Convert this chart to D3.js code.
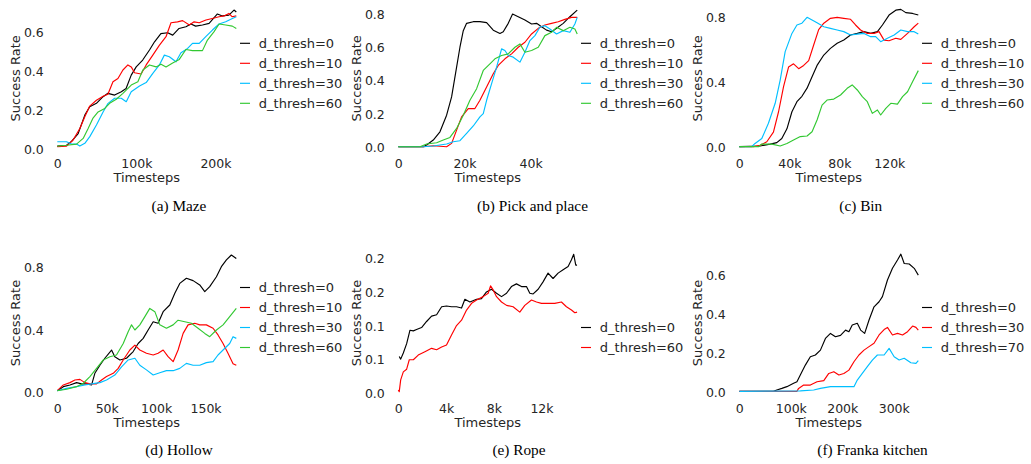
<!DOCTYPE html>
<html><head><meta charset="utf-8">
<script src="https://cdn.jsdelivr.net/npm/d3@7"></script>
<style>
html,body{margin:0;padding:0;background:#fff;}
svg{display:block;}
</style></head>
<body>
<svg id="chart" width="1031" height="464"></svg>
<script>
// ---------- DATA (x in thousands of timesteps, y = success rate) ----------
const captions = ["(a) Maze","(b) Pick and place","(c) Bin","(d) Hollow","(e) Rope","(f) Franka kitchen"];
const legend4 = ["d_thresh=0","d_thresh=10","d_thresh=30","d_thresh=60"];
const legendRope = ["d_thresh=0","d_thresh=60"];
const legendKitchen = ["d_thresh=0","d_thresh=30","d_thresh=70"];

const xTicksMaze = [0,100,200], xLabelsMaze = ["0","100k","200k"];
const yTicksMaze = [0,0.2,0.4,0.6], yLabelsMaze = ["0.0","0.2","0.4","0.6"];
const xTicksPick = [0,20,40], xLabelsPick = ["0","20k","40k"];
const yTicksPick = [0,0.2,0.4,0.6,0.8], yLabelsPick = ["0.0","0.2","0.4","0.6","0.8"];
const xTicksBin = [0,40,80,120], xLabelsBin = ["0","40k","80k","120k"];
const yTicksBin = [0,0.4,0.8], yLabelsBin = ["0.0","0.4","0.8"];
const xTicksHollow = [0,50,100,150], xLabelsHollow = ["0","50k","100k","150k"];
const yTicksHollow = [0,0.4,0.8], yLabelsHollow = ["0.0","0.4","0.8"];
const xTicksRope = [0,4,8,12], xLabelsRope = ["0","4k","8k","12k"];
const yTicksRope = [0,0.05,0.1,0.15,0.2], yLabelsRope = ["0.0","0.1","0.1","0.2","0.2"];
const xTicksKitchen = [0,100,200,300], xLabelsKitchen = ["0","100k","200k","300k"];
const yTicksKitchen = [0,0.2,0.4,0.6], yLabelsKitchen = ["0.0","0.2","0.4","0.6"];

const maze_d0 = [[0,0.016],[11.7,0.02],[18,0.04],[26.4,0.08],[34.8,0.174],[41,0.217],[49.5,0.234],[57.9,0.268],[64,0.285],[72.5,0.276],[81,0.293],[87,0.31],[93.5,0.378],[99.8,0.42],[108,0.455],[116.6,0.506],[123,0.548],[131,0.59],[139.6,0.594],[146,0.582],[154,0.616],[162.7,0.625],[169,0.639],[175,0.628],[183.6,0.634],[192,0.642],[202.5,0.69],[208.8,0.68],[217,0.684],[223.5,0.71],[226.4,0.70]];
const maze_d10 = [[0,0.013],[11.7,0.016],[20,0.047],[28.5,0.106],[34.8,0.166],[41,0.22],[49.5,0.25],[57.9,0.27],[64,0.28],[70.4,0.344],[76.7,0.361],[83,0.404],[89.3,0.43],[93.5,0.42],[97.7,0.39],[106,0.384],[112.4,0.43],[120.8,0.48],[129,0.53],[137.5,0.574],[143.8,0.645],[152,0.65],[158.5,0.656],[167,0.634],[173,0.65],[179.5,0.645],[188,0.659],[196,0.667],[204.6,0.676],[211,0.68],[217,0.693],[221,0.676],[226.4,0.68]];
const maze_d30 = [[0,0.038],[11.7,0.038],[18,0.026],[24.3,0.026],[28.5,0.016],[34.8,0.03],[41.1,0.064],[49.5,0.123],[57.9,0.19],[64.2,0.234],[72.5,0.26],[80.9,0.26],[87.2,0.242],[93.5,0.293],[104,0.322],[112.4,0.34],[120.8,0.387],[129.1,0.43],[135.4,0.48],[141.7,0.472],[150.1,0.446],[156.4,0.492],[164.8,0.514],[171,0.54],[179.5,0.54],[187.8,0.574],[196.2,0.608],[204.6,0.639],[213,0.65],[221.4,0.667],[226.4,0.676]];
const maze_d60 = [[0,0.016],[11.7,0.02],[24.3,0.026],[32.7,0.055],[39,0.106],[44.9,0.157],[51.6,0.19],[60,0.208],[66.2,0.234],[74.6,0.255],[83,0.285],[93.5,0.327],[101.9,0.344],[108.2,0.404],[116.6,0.43],[125,0.42],[131.2,0.434],[137.5,0.42],[145.9,0.44],[154.3,0.458],[162.7,0.509],[171,0.503],[183.6,0.503],[189.9,0.557],[198.3,0.6],[204.6,0.639],[213,0.634],[221.4,0.628],[226.4,0.616]];

const pick_d0 = [[0,0],[7.55,0],[8.56,0.01],[10.57,0.04],[12.59,0.09],[14.6,0.19],[16.11,0.30],[17.62,0.48],[18.63,0.60],[19.64,0.70],[20.64,0.744],[22.66,0.754],[24.67,0.754],[26.69,0.748],[28.7,0.703],[30.72,0.683],[31.72,0.693],[33.23,0.744],[34.54,0.80],[36.25,0.784],[38.27,0.764],[40.28,0.74],[41.79,0.744],[43.3,0.724],[44.81,0.703],[46.32,0.693],[47.83,0.714],[49.85,0.744],[51.86,0.784],[54.08,0.824]];
const pick_d10 = [[0,0],[7.55,0],[10.57,0.006],[14.6,0],[16.11,0.02],[17.62,0.1],[19.13,0.18],[21.15,0.23],[23.16,0.23],[24.67,0.28],[26.69,0.36],[28.7,0.44],[30.21,0.49],[32.23,0.53],[34.24,0.56],[36.25,0.60],[38.27,0.63],[40.28,0.68],[42.3,0.714],[44.31,0.734],[46.32,0.744],[48.34,0.754],[50.35,0.768],[52.37,0.78],[54.08,0.78]];
const pick_d30 = [[0,0],[7.55,0],[10.57,0.004],[14.6,0.016],[16.62,0.03],[18.63,0.036],[20.64,0.08],[22.66,0.125],[24.67,0.18],[25.68,0.2],[26.69,0.28],[28.2,0.38],[29.71,0.48],[31.22,0.59],[32.23,0.58],[33.23,0.55],[34.74,0.54],[36.76,0.51],[38.27,0.57],[39.78,0.64],[41.29,0.67],[42.8,0.72],[44.31,0.73],[45.82,0.71],[47.83,0.68],[49.85,0.70],[51.86,0.69],[53.37,0.74],[54.08,0.78]];
const pick_d60 = [[0,0],[6.55,0],[8.56,0.016],[11.58,0.024],[13.6,0.04],[15.61,0.056],[17.62,0.11],[19.64,0.19],[21.65,0.28],[23.67,0.35],[25.68,0.46],[27.69,0.50],[29.2,0.53],[31.22,0.55],[33.23,0.56],[35.25,0.60],[36.76,0.62],[38.27,0.57],[40.28,0.58],[42.3,0.60],[44.31,0.67],[46.32,0.69],[47.83,0.72],[49.85,0.70],[51.86,0.72],[53.37,0.71],[54.08,0.68]];

const bin_d0 = [[0,0],[16.6,0.004],[24.7,0.016],[30,0.025],[34,0.05],[38.1,0.11],[42.1,0.215],[46.1,0.277],[50.1,0.31],[54.2,0.36],[58.2,0.43],[62.2,0.50],[67.6,0.564],[72.9,0.605],[78.3,0.636],[83.6,0.656],[89,0.687],[94.4,0.697],[99.7,0.708],[105.1,0.697],[110.5,0.708],[114.5,0.749],[119.8,0.81],[125.2,0.84],[129.2,0.845],[133.2,0.825],[138.6,0.82],[143.2,0.81]];
const bin_d10 = [[0,0],[11.3,0],[16.6,0.008],[22,0.03],[27.3,0.09],[31.4,0.215],[35.4,0.37],[39.4,0.49],[43.4,0.51],[47.5,0.48],[51.5,0.50],[55.5,0.53],[59.5,0.626],[63.5,0.72],[67.6,0.76],[72.9,0.79],[78.3,0.796],[83.6,0.79],[89,0.784],[93,0.749],[97,0.718],[102.4,0.697],[107.8,0.697],[111.8,0.708],[115.8,0.656],[119.8,0.652],[125.2,0.667],[129.2,0.66],[134.6,0.697],[139.9,0.738],[143.2,0.76]];
const bin_d30 = [[0,0],[9.9,0],[12.6,0.02],[18,0.05],[23.3,0.144],[28.7,0.267],[32.7,0.41],[36.7,0.585],[42.1,0.697],[46.1,0.749],[50.1,0.76],[54.2,0.796],[58.2,0.78],[62.2,0.763],[67.6,0.738],[72.9,0.728],[78.3,0.718],[83.6,0.708],[89,0.687],[94.4,0.693],[99.7,0.697],[105.1,0.677],[109.1,0.677],[113.1,0.646],[118.5,0.667],[123.9,0.687],[129.2,0.718],[134.6,0.708],[139.9,0.708],[143.2,0.693]];
const bin_d60 = [[0,0],[15.3,0],[18,0.016],[26,0.016],[32.7,0.004],[38.1,0.02],[43.4,0.041],[48.8,0.062],[54.2,0.066],[58.2,0.092],[62.2,0.164],[66.2,0.256],[70.2,0.287],[75.6,0.293],[81,0.318],[86.3,0.359],[90.3,0.38],[94.4,0.349],[98.4,0.308],[102.4,0.277],[106.4,0.205],[110.5,0.226],[113.1,0.195],[117.2,0.236],[121.2,0.267],[126.5,0.262],[130.6,0.308],[134.6,0.338],[138.6,0.40],[143.2,0.468]];

const hollow_d0 = [[0,0.006],[6.1,0.032],[12.8,0.043],[19.5,0.058],[24.6,0.05],[29.6,0.05],[34.7,0.043],[38,0.118],[43.1,0.17],[48.1,0.215],[54.9,0.268],[58.2,0.225],[63.3,0.204],[70,0.215],[76.8,0.258],[81.8,0.31],[86.9,0.343],[91.9,0.397],[97,0.45],[102,0.44],[107.1,0.515],[113.8,0.558],[118.9,0.633],[123.9,0.697],[130.6,0.73],[137.4,0.715],[144.1,0.687],[149.2,0.644],[154.2,0.676],[161,0.74],[166,0.805],[171.1,0.848],[176.1,0.88],[181.1,0.858]];
const hollow_d10 = [[0,0.006],[6.1,0.043],[12.8,0.058],[17.8,0.075],[22.9,0.079],[27.9,0.058],[33,0.05],[39.7,0.05],[44.8,0.075],[49.8,0.097],[56.6,0.118],[61.6,0.15],[66.7,0.204],[73.4,0.268],[78.5,0.30],[83.5,0.268],[90.2,0.247],[97,0.236],[102,0.247],[107.1,0.268],[112.1,0.225],[117.2,0.193],[122.2,0.268],[127.3,0.375],[132.3,0.43],[139.1,0.44],[144.1,0.43],[150.8,0.43],[157.6,0.408],[162.6,0.365],[167.7,0.31],[172.7,0.247],[177.8,0.18],[181.1,0.17]];
const hollow_d30 = [[0,0.006],[9.4,0.021],[19.5,0.032],[27.9,0.043],[34.7,0.05],[43.1,0.058],[49.8,0.075],[58.2,0.107],[65,0.16],[71.7,0.204],[78.5,0.215],[83.5,0.17],[90.2,0.14],[97,0.107],[103.7,0.122],[110.4,0.135],[117.2,0.135],[123.9,0.15],[130.6,0.182],[137.4,0.17],[144.1,0.17],[150.8,0.187],[157.6,0.193],[162.6,0.236],[167.7,0.268],[174.4,0.31],[177.8,0.354],[181.1,0.343]];
const hollow_d60 = [[0,0.006],[9.4,0.015],[19.5,0.032],[26.3,0.054],[33,0.097],[39.7,0.15],[46.5,0.204],[53.2,0.225],[59.9,0.236],[66.7,0.31],[71.7,0.386],[75.1,0.43],[78.5,0.397],[83.5,0.43],[88.6,0.483],[93.6,0.536],[98.7,0.515],[103.7,0.43],[110.4,0.408],[117.2,0.43],[122.2,0.46],[129,0.45],[135.7,0.44],[142.4,0.408],[149.2,0.375],[154.2,0.354],[161,0.397],[167.7,0.43],[174.4,0.483],[181.1,0.536]];

const rope_d0 = [[0.08,0.054],[0.2,0.05],[0.42,0.059],[0.7,0.073],[0.98,0.093],[1.26,0.092],[1.53,0.094],[1.95,0.097],[2.37,0.106],[2.79,0.114],[3.21,0.116],[3.63,0.128],[4.04,0.129],[4.46,0.128],[4.88,0.128],[5.3,0.126],[5.58,0.139],[6,0.135],[6.56,0.139],[6.97,0.14],[7.39,0.15],[7.81,0.154],[8.23,0.148],[8.65,0.143],[9.07,0.148],[9.48,0.158],[9.9,0.162],[10.32,0.158],[10.74,0.158],[11.02,0.148],[11.3,0.147],[11.72,0.154],[12.13,0.165],[12.55,0.178],[12.97,0.17],[13.39,0.178],[13.81,0.183],[14.23,0.188],[14.51,0.198],[14.7,0.206],[14.87,0.19],[14.98,0.19]];
const rope_d60 = [[0,0.004],[0.08,0.0015],[0.2,0.019],[0.42,0.031],[0.7,0.035],[0.92,0.049],[1.26,0.049],[1.67,0.056],[2.23,0.061],[2.79,0.066],[3.21,0.064],[3.63,0.068],[4.04,0.071],[4.46,0.086],[4.88,0.10],[5.3,0.108],[5.72,0.123],[6.14,0.133],[6.56,0.138],[7.11,0.143],[7.53,0.148],[7.73,0.159],[7.95,0.153],[8.23,0.143],[8.65,0.135],[9.07,0.13],[9.62,0.128],[10.18,0.12],[10.6,0.13],[11.16,0.138],[11.58,0.135],[12,0.133],[12.55,0.133],[13.11,0.133],[13.67,0.135],[14.09,0.128],[14.51,0.123],[14.79,0.119],[14.98,0.12]];

const kitchen_d0 = [[0,0.002],[66.4,0.002],[72.9,0.009],[82.7,0.017],[92.4,0.026],[105.5,0.043],[112,0.051],[118.5,0.086],[128.3,0.137],[138,0.18],[147.8,0.189],[157.6,0.214],[167.3,0.274],[177.1,0.30],[186.8,0.283],[196.6,0.29],[206.4,0.317],[212.9,0.309],[219.4,0.343],[229.2,0.352],[235.7,0.317],[243.5,0.30],[252,0.369],[261.7,0.437],[271.5,0.463],[278,0.489],[287.8,0.575],[297.5,0.635],[307.3,0.678],[313.8,0.708],[320.3,0.66],[330.1,0.657],[339.8,0.635],[347.7,0.60]];
const kitchen_d30 = [[0,0.002],[112,0.002],[115.2,0.017],[125,0.034],[138,0.034],[151,0.051],[164.1,0.057],[173.8,0.094],[183.6,0.103],[193.4,0.086],[203.1,0.094],[212.9,0.111],[222.7,0.154],[232.4,0.189],[242.2,0.214],[252,0.232],[261.7,0.249],[271.5,0.292],[281.3,0.32],[287.8,0.331],[297.5,0.292],[307.3,0.30],[317.1,0.292],[326.8,0.309],[336.6,0.338],[343.1,0.331],[347.7,0.317]];
const kitchen_d70 = [[0,0.002],[118.5,0.004],[144.5,0.009],[157.6,0.017],[177.1,0.026],[196.6,0.026],[216.1,0.026],[222.7,0.026],[229.2,0.06],[238.9,0.094],[248.7,0.129],[258.5,0.163],[268.2,0.189],[281.3,0.189],[291,0.223],[300.8,0.18],[310.5,0.163],[320.3,0.172],[333.3,0.149],[343.1,0.146],[347.7,0.16]];

// ---------- LAYOUT / STYLE ----------
const C = {k:"#000000", r:"#ff0000", b:"#00bfff", g:"#32c832"};
const colX = [57.3, 398.3, 739.3];
const axW = 179;
const rowBox = [[3.2,153.5],[248,398]];
const legendLastY = [103.3, 347.5];
const capBase = [211, 454.5];

const panels = [
  {col:0,row:0,series:[maze_d0,maze_d10,maze_d30,maze_d60],colors:[C.k,C.r,C.b,C.g],legend:legend4,xmax:226.4,ylim:[-0.022,0.745],xt:xTicksMaze,xl:xLabelsMaze,yt:yTicksMaze,yl:yLabelsMaze,cap:captions[0],capX:179},
  {col:1,row:0,series:[pick_d0,pick_d10,pick_d30,pick_d60],colors:[C.k,C.r,C.b,C.g],legend:legend4,xmax:54.1,ylim:[-0.041,0.8655],xt:xTicksPick,xl:xLabelsPick,yt:yTicksPick,yl:yLabelsPick,cap:captions[1],capX:532.5},
  {col:2,row:0,series:[bin_d0,bin_d10,bin_d30,bin_d60],colors:[C.k,C.r,C.b,C.g],legend:legend4,xmax:143.2,ylim:[-0.042,0.883],xt:xTicksBin,xl:xLabelsBin,yt:yTicksBin,yl:yLabelsBin,cap:captions[2],capX:860.8},
  {col:0,row:1,series:[hollow_d0,hollow_d10,hollow_d30,hollow_d60],colors:[C.k,C.r,C.b,C.g],legend:legend4,xmax:181.1,ylim:[-0.041,0.925],xt:xTicksHollow,xl:xLabelsHollow,yt:yTicksHollow,yl:yLabelsHollow,cap:captions[3],capX:179},
  {col:1,row:1,series:[rope_d0,rope_d60],colors:[C.k,C.r],legend:legendRope,xmax:15,ylim:[-0.0079,0.2154],xt:xTicksRope,xl:xLabelsRope,yt:yTicksRope,yl:yLabelsRope,cap:captions[4],capX:519},
  {col:2,row:1,series:[kitchen_d0,kitchen_d30,kitchen_d70],colors:[C.k,C.r,C.b],legend:legendKitchen,xmax:347.7,ylim:[-0.0324,0.7396],xt:xTicksKitchen,xl:xLabelsKitchen,yt:yTicksKitchen,yl:yLabelsKitchen,cap:captions[5],capX:872.5}
];

const svg = d3.select("#chart");
const SANS = "DejaVu Sans, sans-serif";
const SERIF = "Liberation Serif, Times New Roman, serif";
const TXT = "#262626";

panels.forEach(p => {
  const x0 = colX[p.col];
  const [top, bottom] = rowBox[p.row];
  const x = d3.scaleLinear().domain([0, p.xmax]).range([x0, x0 + axW]);
  const y = d3.scaleLinear().domain(p.ylim).range([bottom, top]);
  const g = svg.append("g");

  const xa = g.append("g").attr("transform", `translate(0,${bottom})`)
    .call(d3.axisBottom(x).tickValues(p.xt).tickFormat((d,i)=>p.xl[i]).tickSize(0).tickPadding(0));
  xa.select(".domain").remove();
  xa.selectAll("text").attr("y", 14.5).attr("dy", null)
    .attr("font-family", SANS).attr("font-size", 12.5).attr("fill", TXT);

  const ya = g.append("g").attr("transform", `translate(${x0},0)`)
    .call(d3.axisLeft(y).tickValues(p.yt).tickFormat((d,i)=>p.yl[i]).tickSize(0).tickPadding(0));
  ya.select(".domain").remove();
  ya.selectAll("text").attr("x", -13.5).attr("dy", "0.36em")
    .attr("font-family", SANS).attr("font-size", 12.5).attr("fill", TXT);

  g.append("text").attr("x", x0 + axW/2).attr("y", bottom + 28.5)
    .attr("text-anchor", "middle").attr("font-family", SANS).attr("font-size", 13)
    .attr("fill", TXT).text("Timesteps");
  g.append("text")
    .attr("transform", `translate(${x0 - 37},${(top+bottom)/2}) rotate(-90)`)
    .attr("text-anchor", "middle").attr("font-family", SANS).attr("font-size", 13)
    .attr("fill", TXT).text("Success Rate");

  const line = d3.line().x(d => x(d[0])).y(d => y(d[1]));
  p.series.forEach((s, i) => {
    g.append("path").datum(s).attr("d", line)
      .attr("fill", "none").attr("stroke", p.colors[i]).attr("stroke-width", 1.15)
      .attr("stroke-linejoin", "round");
  });

  const n = p.legend.length;
  p.legend.forEach((lab, i) => {
    const ly = legendLastY[p.row] - (n - 1 - i) * 20;
    g.append("line").attr("x1", x0 + 182.7).attr("x2", x0 + 192.7)
      .attr("y1", ly).attr("y2", ly).attr("stroke", p.colors[i]).attr("stroke-width", 1.15);
    g.append("text").attr("x", x0 + 201.5).attr("y", ly).attr("dy", "0.36em")
      .attr("font-family", SANS).attr("font-size", 13).attr("fill", TXT).text(lab);
  });

  g.append("text").attr("x", p.capX).attr("y", capBase[p.row])
    .attr("text-anchor", "middle").attr("font-family", SERIF).attr("font-size", 15.3)
    .attr("fill", "#000").text(p.cap);
});
</script>
</body></html>
